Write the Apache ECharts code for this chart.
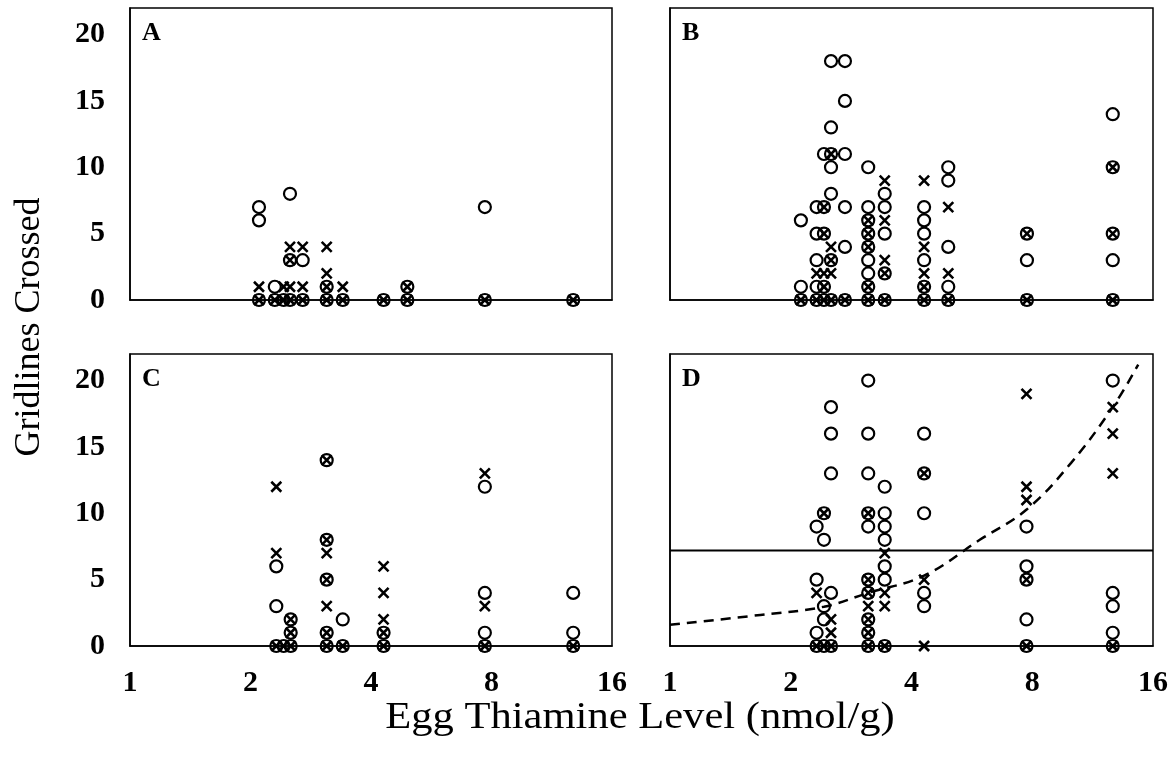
<!DOCTYPE html>
<html><head><meta charset="utf-8">
<script src="https://cdn.jsdelivr.net/npm/echarts@6/dist/echarts.min.js"></script>
<style>html,body{margin:0;padding:0;background:#fff}#c{width:1175px;height:766px}</style>
</head><body><div id="c"></div>
<script>
// ---- data (x = egg thiamine level nmol/g, y = gridlines crossed) ----
const panelLetters = ['A', 'B', 'C', 'D'];
const xTicks = [1, 2, 4, 8, 16];
const yTicks = [0, 5, 10, 15, 20];
const xTitle = 'Egg Thiamine Level (nmol/g)';
const yTitle = 'Gridlines Crossed';

const circlesA = [[2.1,7],[2.1,6],[2.1,0],[2.3,1],[2.3,0],[2.42,0],[2.51,8],[2.51,3],[2.51,0],[2.7,3],[2.7,0],
  [3.1,1],[3.1,0],[3.4,0],[4.3,0],[4.93,1],[4.93,0],[7.7,7],[7.7,0],[12.8,0]];
const crossesA = [[2.1,1],[2.1,0],[2.3,0],[2.42,1],[2.42,0],[2.51,4],[2.51,3],[2.51,1],[2.51,0],[2.7,4],[2.7,1],[2.7,0],
  [3.1,4],[3.1,2],[3.1,1],[3.1,0],[3.4,1],[3.4,0],[4.3,0],[4.93,1],[4.93,0],[7.7,0],[12.8,0]];

const circlesB = [[2.12,6],[2.12,1],[2.12,0],[2.32,7],[2.32,5],[2.32,3],[2.32,1],[2.32,0],
  [2.42,11],[2.42,7],[2.42,5],[2.42,1],[2.42,0],[2.52,18],[2.52,13],[2.52,11],[2.52,10],[2.52,8],[2.52,3],[2.52,0],
  [2.73,18],[2.73,15],[2.73,11],[2.73,7],[2.73,4],[2.73,0],
  [3.12,10],[3.12,7],[3.12,6],[3.12,5],[3.12,4],[3.12,3],[3.12,2],[3.12,1],[3.12,0],
  [3.43,8],[3.43,7],[3.43,5],[3.43,2],[3.43,0],[4.3,7],[4.3,6],[4.3,5],[4.3,3],[4.3,1],[4.3,0],
  [4.94,10],[4.94,9],[4.94,4],[4.94,1],[4.94,0],[7.76,5],[7.76,3],[7.76,0],[12.7,14],[12.7,10],[12.7,5],[12.7,3],[12.7,0]];
const crossesB = [[2.12,0],[2.32,2],[2.32,0],[2.42,7],[2.42,5],[2.42,2],[2.42,1],[2.42,0],
  [2.52,11],[2.52,4],[2.52,3],[2.52,2],[2.52,0],[2.73,0],[3.12,6],[3.12,5],[3.12,4],[3.12,1],[3.12,0],
  [3.43,9],[3.43,6],[3.43,3],[3.43,2],[3.43,0],[4.3,9],[4.3,4],[4.3,2],[4.3,1],[4.3,0],
  [4.94,7],[4.94,2],[4.94,0],[7.76,5],[7.76,0],[12.7,10],[12.7,5],[12.7,0]];

const circlesC = [[2.32,6],[2.32,3],[2.32,0],[2.42,0],[2.52,2],[2.52,1],[2.52,0],
  [3.1,14],[3.1,8],[3.1,5],[3.1,1],[3.1,0],[3.4,2],[3.4,0],[4.3,1],[4.3,0],
  [7.7,12],[7.7,4],[7.7,1],[7.7,0],[12.8,4],[12.8,1],[12.8,0]];
const crossesC = [[2.32,12],[2.32,7],[2.32,0],[2.42,0],[2.52,2],[2.52,1],[2.52,0],
  [3.1,14],[3.1,8],[3.1,7],[3.1,5],[3.1,3],[3.1,1],[3.1,0],[3.4,0],
  [4.3,6],[4.3,4],[4.3,2],[4.3,1],[4.3,0],[7.7,13],[7.7,3],[7.7,0],[12.8,0]];

const circlesD = [[2.32,9],[2.32,5],[2.32,1],[2.32,0],[2.42,10],[2.42,8],[2.42,3],[2.42,2],[2.42,0],
  [2.52,18],[2.52,16],[2.52,13],[2.52,4],[2.52,0],
  [3.12,20],[3.12,16],[3.12,13],[3.12,10],[3.12,9],[3.12,5],[3.12,4],[3.12,2],[3.12,1],[3.12,0],
  [3.43,12],[3.43,10],[3.43,9],[3.43,8],[3.43,6],[3.43,5],[3.43,0],
  [4.3,16],[4.3,13],[4.3,10],[4.3,4],[4.3,3],[7.74,9],[7.74,6],[7.74,5],[7.74,2],[7.74,0],
  [12.7,20],[12.7,4],[12.7,3],[12.7,1],[12.7,0]];
const crossesD = [[2.32,4],[2.32,0],[2.42,10],[2.42,0],[2.52,2],[2.52,1],[2.52,0],
  [3.12,10],[3.12,5],[3.12,4],[3.12,3],[3.12,2],[3.12,1],[3.12,0],[3.43,7],[3.43,4],[3.43,3],[3.43,0],
  [4.3,13],[4.3,5],[4.3,0],[7.74,19],[7.74,12],[7.74,11],[7.74,5],[7.74,0],
  [12.7,18],[12.7,16],[12.7,13],[12.7,0]];

const refLineD = [[1, 7.2], [16, 7.2]];
const curveD = [[1,1.6],[1.68,2.34],[2.42,2.96],[3.12,4.0],[4.3,5.3],[5.92,8.0],[7.76,10.3],[10,13.8],[12.7,18],[14.7,21.2]];

const circles = [circlesA, circlesB, circlesC, circlesD];
const crosses = [crossesA, crossesB, crossesC, crossesD];

// ---- layout ----
const FONT = '"Liberation Serif", "Times New Roman", serif';
const grids = [
  {left: 130, top: 8, width: 482, height: 292},
  {left: 670, top: 8, width: 483, height: 292},
  {left: 130, top: 354, width: 482, height: 292},
  {left: 670, top: 354, width: 483, height: 292}
];

const chart = echarts.init(document.getElementById('c'), null, {renderer: 'canvas'});
const xAxes = [], yAxes = [], series = [], graphics = [];
grids.forEach((g, i) => {
  xAxes.push({
    type: 'log', logBase: 2, min: 1, max: 16, gridIndex: i, splitNumber: 4,
    axisLine: {show: true, lineStyle: {color: '#000', width: 1.5}},
    axisTick: {show: false}, splitLine: {show: false},
    axisLabel: {show: i >= 2, margin: 22, color: '#000', fontFamily: FONT, fontSize: 30, fontWeight: 'bold',
      formatter: v => { const r = Math.round(v); return xTicks.includes(r) ? String(r) : ''; }}
  });
  yAxes.push({
    type: 'value', min: 0, max: 22, interval: 5, gridIndex: i,
    axisLine: {show: true, lineStyle: {color: '#000', width: 1.5}},
    axisTick: {show: false}, splitLine: {show: false},
    axisLabel: {show: i % 2 === 0, margin: 25, color: '#000', fontFamily: FONT, fontSize: 30, fontWeight: 'bold',
      formatter: v => yTicks.includes(v) ? String(v) : ''}
  });
  series.push({
    type: 'scatter', xAxisIndex: i, yAxisIndex: i, data: circles[i], symbol: 'circle', symbolSize: 12,
    itemStyle: {color: 'rgba(0,0,0,0)', borderColor: '#000', borderWidth: 2.2, opacity: 1}, z: 3, silent: true
  });
  series.push({
    type: 'scatter', xAxisIndex: i, yAxisIndex: i, data: crosses[i], symbol: 'path://M0,0L10,10M10,0L0,10', symbolSize: 10,
    itemStyle: {color: 'none', borderColor: '#000', borderWidth: 2.6, opacity: 1}, z: 4, silent: true
  });
  graphics.push({
    type: 'text', x: g.left + 12, y: g.top + 25,
    style: {text: panelLetters[i], font: 'bold 26px ' + FONT, fill: '#000', textVerticalAlign: 'middle'}
  });
});

series.push({
  type: 'line', xAxisIndex: 3, yAxisIndex: 3, data: refLineD, symbol: 'none', silent: true,
  lineStyle: {color: '#000', width: 2}, z: 2
});
series.push({
  type: 'line', xAxisIndex: 3, yAxisIndex: 3, data: curveD, symbol: 'none', smooth: 0.4, silent: true,
  lineStyle: {color: '#000', width: 2.5, type: [10, 7]}, z: 2
});

graphics.push({
  type: 'text', x: 30, y: 327, rotation: Math.PI / 2,
  style: {text: yTitle, font: '36px ' + FONT, fill: '#000', textAlign: 'center', textVerticalAlign: 'middle'}
});
graphics.push({
  type: 'text', x: 640, y: 718, scaleX: 1.12,
  style: {text: xTitle, font: '38px ' + FONT, fill: '#000', textAlign: 'center', textVerticalAlign: 'middle'}
});

chart.setOption({
  animation: false,
  backgroundColor: '#fff',
  grid: grids.map(g => Object.assign({show: true, borderColor: '#000', borderWidth: 1.5, backgroundColor: 'transparent', containLabel: false}, g)),
  xAxis: xAxes,
  yAxis: yAxes,
  series: series,
  graphic: graphics
});
</script></body></html>
